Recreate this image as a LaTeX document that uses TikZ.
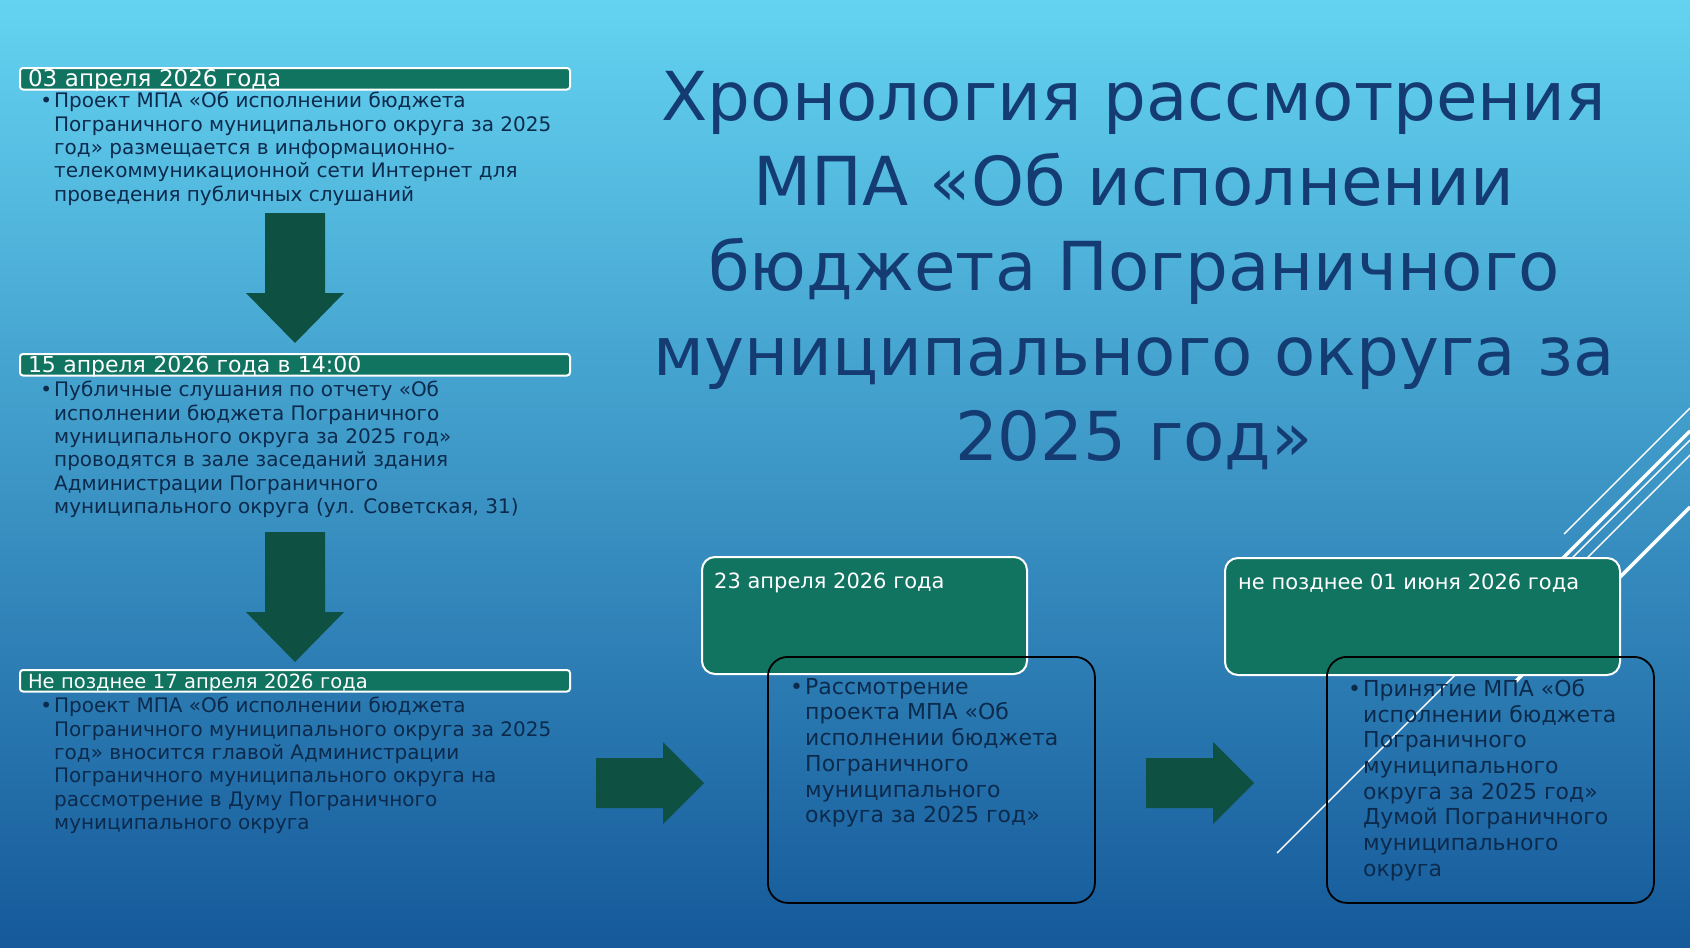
\documentclass[tikz,border=0pt]{standalone}
\usepackage{fontspec}
\setmainfont{DejaVu Sans}
\usetikzlibrary{positioning,calc}

\definecolor{bgtop}{HTML}{64D3F1}
\definecolor{bgmid}{HTML}{3AA3D2}
\definecolor{bgbot}{HTML}{15599A}
\definecolor{hdrgreen}{HTML}{117461}
\definecolor{arrgreen}{HTML}{0E5143}
\definecolor{ink}{HTML}{0C2A4C}
\definecolor{titleblue}{HTML}{143C72}

\begin{document}
\begin{tikzpicture}[x=1pt,y=-1pt,
    datebar/.style={rectangle,rounded corners=3pt,draw=white,line width=2pt,fill=hdrgreen,text=white,
      anchor=north west,inner xsep=8pt,inner ysep=3pt,text width=534pt,align=left,
      text height=15.5pt,text depth=0pt},
    steptext/.style={anchor=north west,inner sep=0pt,align=left,text=ink,font=\fontsize{20}{23.4}\selectfont},
    datebox/.style={rectangle,rounded corners=13pt,draw=white,line width=2pt,fill=hdrgreen,
      anchor=north west,minimum height=117pt,inner sep=0pt},
    notebox/.style={rectangle,rounded corners=20pt,draw=black,line width=1.8pt,
      anchor=north west,minimum width=327pt,minimum height=246pt,inner sep=0pt},
    boxdate/.style={anchor=base west,inner sep=0pt,text=white,font=\fontsize{21}{25}\selectfont},
    boxtext/.style={anchor=north west,inner sep=0pt,align=left,text=ink,font=\fontsize{22}{25.7}\selectfont},
    headline/.style={anchor=north,inner sep=0pt,align=center,text=titleblue,font=\fontsize{67.5}{85}\selectfont},
    deco/.style={draw=white,line width=1.4pt},
    pics/darr/.style={code={\fill[arrgreen] (-30,0) -- (30,0) -- (30,80) -- (49,80) -- (0,130) -- (-49,80) -- (-30,80) -- cycle;}},
    pics/rarr/.style={code={\fill[arrgreen] (0,-25) -- (67,-25) -- (67,-41) -- (108,0) -- (67,41) -- (67,25) -- (0,25) -- cycle;}}]

  \useasboundingbox (0,0) rectangle (1690,948);
  \shade[top color=bgtop,middle color=bgmid,bottom color=bgbot] (0,0) rectangle (1690,948);

  % slice lines
  \draw[deco] (1564,534) -- (1690,408);
  \draw[deco,line width=3.5pt] (1500,621) -- (1690,431);
  \draw[deco] (1277,853) -- (1690,440);
  \draw[deco] (1540,605) -- (1690,455);
  \draw[deco,line width=3.5pt] (1515,682) -- (1690,507);

  % left column
  \node[datebar,font=\fontsize{23}{25}\selectfont] (h1) at (19,67) {03 апреля 2026 года};
  \node[steptext] (s1) at (54,92) {\llap{•\hspace{2pt}}Проект МПА «Об исполнении бюджета\\
    Пограничного муниципального округа за 2025\\
    год» размещается в информационно-\\
    телекоммуникационной сети Интернет для\\
    проведения публичных слушаний};

  \node[datebar,font=\fontsize{22}{25}\selectfont] (h2) at (19,353) {15 апреля 2026 года в 14:00};
  \node[steptext] (s2) at (54,381) {\llap{•\hspace{2pt}}Публичные слушания по отчету «Об\\
    исполнении бюджета Пограничного\\
    муниципального округа за 2025 год»\\
    проводятся в зале заседаний здания\\
    Администрации Пограничного\\
    муниципального округа (ул. Советская, 31)};

  \node[datebar,font=\fontsize{19.5}{24}\selectfont] (h3) at (19,669) {Не позднее 17 апреля 2026 года};
  \node[steptext] (s3) at (54,697) {\llap{•\hspace{2pt}}Проект МПА «Об исполнении бюджета\\
    Пограничного муниципального округа за 2025\\
    год» вносится главой Администрации\\
    Пограничного муниципального округа на\\
    рассмотрение в Думу Пограничного\\
    муниципального округа};

  \pic at (295,213) {darr};
  \pic at (295,532) {darr};
  \pic at (596,783) {rarr};
  \pic at (1146,783) {rarr};

  % right boxes
  \node[datebox,minimum width=325pt] (dA) at (701,556) {};
  \node[boxdate] (tA) at ([xshift=13pt,yshift=-32pt]dA.north west) {23 апреля 2026 года};
  \node[notebox] (nA) at (767,656) {};
  \node[boxtext] (bA) at ([xshift=38pt,yshift=-22pt]nA.north west) {\llap{•\hspace{2pt}}Рассмотрение\\
    проекта МПА «Об\\
    исполнении бюджета\\
    Пограничного\\
    муниципального\\
    округа за 2025 год»};

  \node[datebox,minimum width=395pt] (dB) at (1224,557) {};
  \node[boxdate] (tB) at ([xshift=14pt,yshift=-32pt]dB.north west) {не позднее 01 июня 2026 года};
  \node[notebox] (nB) at (1326,656) {};
  \node[boxtext] (bB) at ([xshift=37pt,yshift=-23pt]nB.north west) {\llap{•\hspace{2pt}}Принятие МПА «Об\\
    исполнении бюджета\\
    Пограничного\\
    муниципального\\
    округа за 2025 год»\\
    Думой Пограничного\\
    муниципального\\
    округа};

  \node[headline] (ttl) at (1134,71) {Хронология рассмотрения\\
    МПА «Об исполнении\\
    бюджета Пограничного\\
    муниципального округа за\\
    2025 год»};

\end{tikzpicture}
\end{document}
